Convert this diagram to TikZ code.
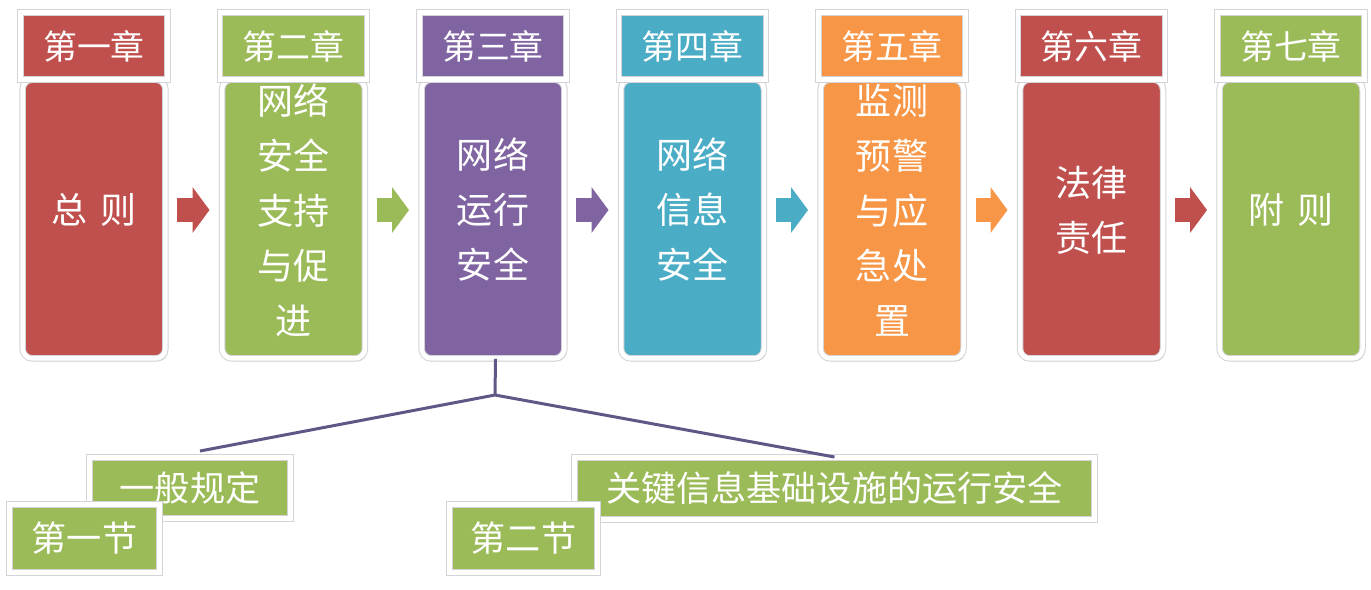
\documentclass[tikz,border=0pt]{standalone}
\usepackage{fontspec}
\setmainfont{Noto Sans CJK SC}
\usepackage{tikz}
\usetikzlibrary{positioning,arrows.meta,shadows}
\definecolor{col1}{HTML}{C0504D}
\definecolor{col2}{HTML}{9BBB59}
\definecolor{col3}{HTML}{8064A2}
\definecolor{col4}{HTML}{4BACC6}
\definecolor{col5}{HTML}{F79646}
\definecolor{col6}{HTML}{C0504D}
\definecolor{col7}{HTML}{9BBB59}
\definecolor{branchline}{HTML}{5E5886}
\definecolor{softshadow}{HTML}{9A9A9A}
\definecolor{rimgray}{HTML}{D4D4D8}

\begin{document}
\begin{tikzpicture}[
      x=0.02cm, y=-0.02cm,
      framed/.style={
        draw=rimgray, line width=0.02cm, double=white, double distance=0.09cm,
        drop shadow={shadow xshift=0.04cm, shadow yshift=-0.06cm,
          opacity=0.4, fill=softshadow}
      },
      chapbody/.style={
        framed, rounded corners=0.2cm,
        minimum width=2.86cm, minimum height=5.58cm, inner sep=0pt
      },
      chaphead/.style={
        framed, minimum width=2.94cm, minimum height=1.34cm, inner sep=0pt,
        text=white, font=\fontsize{19.3}{22}\selectfont
      },
      chaptext/.style={
        text=white, align=center, inner sep=0pt,
        font=\fontsize{20.5}{31.3}\selectfont
      },
      sectitle/.style={
        framed, fill=col2, inner sep=0pt, text=white,
        font=\fontsize{20}{24}\selectfont
      },
      flowarrow/.style={
        line width=0.48cm, -{Triangle[width=0.9cm,length=0.34cm]},
        shorten <=0.23cm, shorten >=0.24cm
      },
      branch/.style={draw=branchline, line width=0.06cm}
    ]
      \useasboundingbox (0,0) rectangle (1371,589);

      % chapter columns
      \foreach \i/\num/\txt in {
          1/一/{总\hspace{0.35em}则},
          2/二/{网络\\安全\\支持\\与促\\进},
          3/三/{网络\\运行\\安全},
          4/四/{网络\\信息\\安全},
          5/五/{监测\\预警\\与应\\急处\\置},
          6/六/{法律\\责任},
          7/七/{附\hspace{0.35em}则}} {
        \node[chapbody, fill=col\i] (body\i) at ({94+199.5*(\i-1)},219) {};
        \node[chaptext] (text\i) at ({94+199.5*(\i-1)},210) {\txt};
        \node[chaphead, fill=col\i] (head\i) at ({94+199.5*(\i-1)},46) {第\num 章};
      }

      % arrows between chapters
      \foreach \i [evaluate=\i as \j using int(\i+1)] in {1,...,6}
        \draw[flowarrow, col\i] ([yshift=0.18cm]body\i.east) -- ([yshift=0.18cm]body\j.west);

      % sections of chapter three
      \node[sectitle, minimum width=4.02cm, minimum height=1.22cm] (sec1) at (190,488) {一般规定};
      \node[sectitle, minimum width=3.0cm, minimum height=1.36cm] (sec1no) at (84.5,538.5) {第一节};
      \node[sectitle, minimum width=10.4cm, minimum height=1.24cm] (sec2) at (834.5,488.5) {关键信息基础设施的运行安全};
      \node[sectitle, minimum width=2.96cm, minimum height=1.36cm] (sec2no) at (523.5,538.5) {第二节};

      \coordinate (fork) at (495,395);
      \draw[branch] ([xshift=0.05cm]body3.south) -- (fork);
      \draw[branch] (fork) -- ([xshift=0.2cm,yshift=0.12cm]sec1.north);
      \draw[branch] (fork) -- (sec2.north);
    \end{tikzpicture}
\end{document}
